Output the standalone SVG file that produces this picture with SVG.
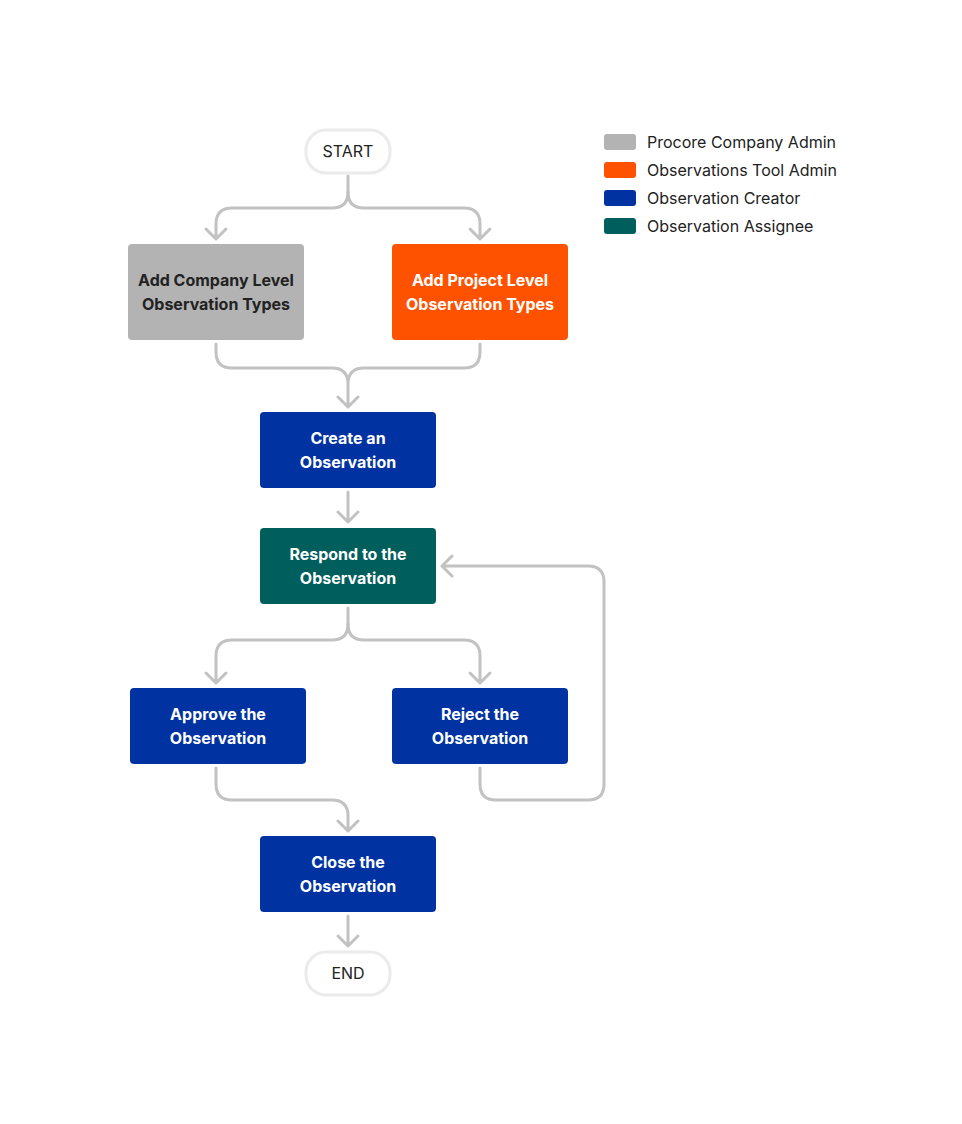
<svg xmlns="http://www.w3.org/2000/svg" width="962" height="1124" viewBox="0 0 962 1124">
<style>
.c{fill:none;stroke:#c2c2c2;stroke-width:3;stroke-linecap:round;stroke-linejoin:round}
.t{font-family:Inter,"Liberation Sans",sans-serif;font-size:16px;font-weight:700;text-anchor:middle}
.w{fill:#fff}.k{fill:#222}
.p{fill:#fff;stroke:#ebebeb;stroke-width:3}
.pt{font-family:Inter,"Liberation Sans",sans-serif;font-size:16px;fill:#222;text-anchor:middle}
.l{font-family:Inter,"Liberation Sans",sans-serif;font-size:16px;fill:#222}
</style>
<rect width="962" height="1124" fill="#fff"/>
<g id="connectors" class="c">
<path d="M348 176V192Q348 208 332 208H232Q216 208 216 224V238M206 229L216 239L226 229"/>
<path d="M348 192Q348 208 364 208H464Q480 208 480 224V238M470 229L480 239L490 229"/>
<path d="M216 344V352Q216 368 232 368H332Q348 368 348 384V407M480 344V352Q480 368 464 368H364Q348 368 348 384M338 397L348 407L358 397"/>
<path d="M348 492V522M338 512L348 522L358 512"/>
<path d="M348 608V624Q348 640 332 640H232Q216 640 216 656V682M206 673L216 683L226 673"/>
<path d="M348 624Q348 640 364 640H464Q480 640 480 656V682M470 673L480 683L490 673"/>
<path d="M216 768V784Q216 800 232 800H332Q348 800 348 816V830M338 821L348 831L358 821"/>
<path d="M480 768V784Q480 800 496 800H588Q604 800 604 784V582Q604 566 588 566H442M452 556L442 566L452 576"/>
<path d="M348 916V946M338 936L348 946L358 936"/>
</g>
<g id="start"><rect class="p" x="306" y="130" width="84" height="43" rx="20"/><text class="pt" x="348" y="157">START</text></g>
<g id="company"><rect x="128" y="244" width="176" height="96" rx="4" fill="#b3b3b3"/><text class="t k" x="216" y="286">Add Company Level</text><text class="t k" x="216" y="310">Observation Types</text></g>
<g id="project"><rect x="392" y="244" width="176" height="96" rx="4" fill="#ff5200"/><text class="t w" x="480" y="286">Add Project Level</text><text class="t w" x="480" y="310">Observation Types</text></g>
<g id="create"><rect x="260" y="412" width="176" height="76" rx="4" fill="#0033a1"/><text class="t w" x="348" y="444">Create an</text><text class="t w" x="348" y="468">Observation</text></g>
<g id="respond"><rect x="260" y="528" width="176" height="76" rx="4" fill="#005e5d"/><text class="t w" x="348" y="560">Respond to the</text><text class="t w" x="348" y="584">Observation</text></g>
<g id="approve"><rect x="130" y="688" width="176" height="76" rx="4" fill="#0033a1"/><text class="t w" x="218" y="720">Approve the</text><text class="t w" x="218" y="744">Observation</text></g>
<g id="reject"><rect x="392" y="688" width="176" height="76" rx="4" fill="#0033a1"/><text class="t w" x="480" y="720">Reject the</text><text class="t w" x="480" y="744">Observation</text></g>
<g id="close"><rect x="260" y="836" width="176" height="76" rx="4" fill="#0033a1"/><text class="t w" x="348" y="868">Close the</text><text class="t w" x="348" y="892">Observation</text></g>
<g id="end"><rect class="p" x="306" y="952" width="84" height="43" rx="20"/><text class="pt" x="348" y="979">END</text></g>
<g id="legend">
<rect x="604" y="134" width="32" height="16" rx="3" fill="#b3b3b3"/><text class="l" x="647" y="148">Procore Company Admin</text>
<rect x="604" y="162" width="32" height="16" rx="3" fill="#ff5200"/><text class="l" x="647" y="176">Observations Tool Admin</text>
<rect x="604" y="190" width="32" height="16" rx="3" fill="#0033a1"/><text class="l" x="647" y="204">Observation Creator</text>
<rect x="604" y="218" width="32" height="16" rx="3" fill="#005e5d"/><text class="l" x="647" y="232">Observation Assignee</text>
</g>
</svg>
